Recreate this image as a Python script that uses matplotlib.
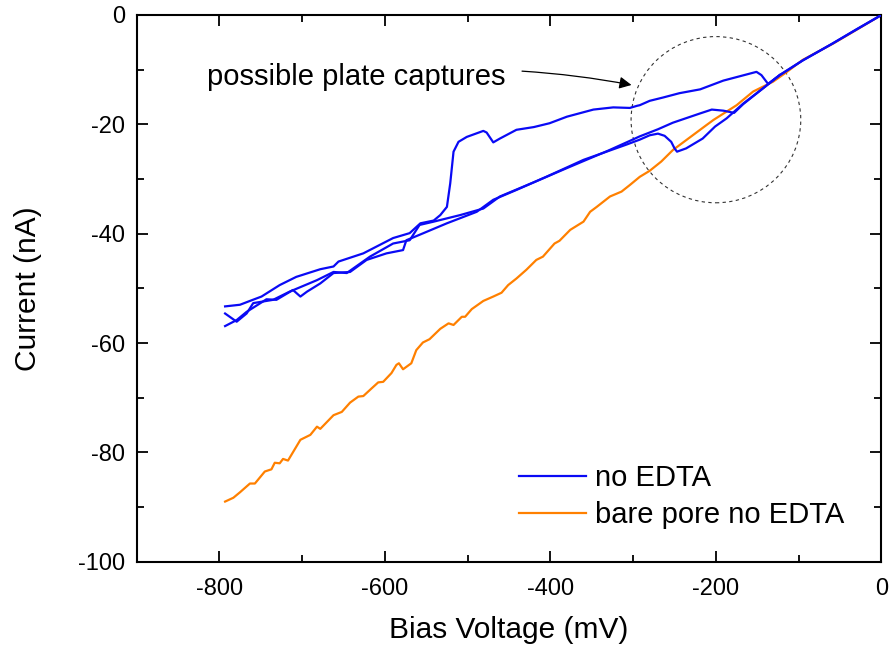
import numpy as np
import matplotlib
matplotlib.use('Agg')
import matplotlib.pyplot as plt
from matplotlib.patches import Ellipse
from matplotlib.ticker import MultipleLocator

plt.rcParams['font.family'] = ['Liberation Sans', 'DejaVu Sans']
plt.rcParams['axes.unicode_minus'] = False

# blue, sweep with the capture (upper branch)
v_capture = [-793, -775, -763, -749, -727, -707, -678, -662, -656, -626, -590, -570, -557, -541, -533, -525,
             -521, -517, -511, -501, -481, -477, -469, -461, -441, -420, -401, -380, -348, -324, -304, -295,
             -292, -280, -264, -244, -219, -191, -171, -151, -145, -137, -123, -95, -60, -30, 0]
i_capture = [-53.3, -53.0, -52.3, -51.5, -49.4, -47.9, -46.5, -46.0, -45.1, -43.6, -40.8, -39.9, -38.1, -37.6, -36.6, -35.1,
             -30.8, -25.0, -23.2, -22.3, -21.2, -21.5, -23.3, -22.6, -21.0, -20.5, -19.8, -18.6, -17.3, -16.9, -17.0, -16.6,
             -16.5, -15.7, -15.1, -14.3, -13.6, -12.0, -11.2, -10.4, -11.0, -12.6, -11.0, -8.3, -5.3, -2.6, 0.0]

# blue, sweep with the hook near -250 mV
v_hook = [-793, -779, -767, -743, -731, -711, -702, -694, -678, -662, -642, -622, -598, -578, -574, -558,
          -525, -489, -469, -441, -405, -360, -308, -292, -280, -270, -262, -254, -250, -247, -236, -216,
          -201, -187, -167, -143, -123, -95, -60, 0]
i_hook = [-56.9, -55.8, -54.3, -52.0, -52.1, -50.3, -51.5, -50.6, -49.1, -47.2, -47.0, -44.8, -43.6, -43.0, -41.2, -40.2,
          -38.1, -36.0, -33.8, -32.0, -29.6, -26.5, -23.7, -22.8, -22.0, -21.7, -22.1, -23.2, -24.4, -25.0, -24.4, -22.6,
          -20.4, -18.9, -16.2, -13.4, -11.0, -8.3, -5.3, 0.0]

# blue, third sweep
v_mid = [-793, -779, -767, -759, -735, -715, -682, -662, -646, -618, -590, -570, -558, -541, -509, -481,
         -461, -420, -380, -330, -308, -292, -270, -252, -219, -205, -191, -178, -167, -143, -123]
i_mid = [-54.6, -56.1, -54.6, -52.7, -52.1, -50.6, -48.5, -47.0, -47.2, -44.2, -41.8, -41.2, -38.4, -37.8, -36.6, -35.4,
         -33.2, -30.6, -28.0, -24.8, -23.3, -22.2, -20.9, -19.7, -18.0, -17.3, -17.5, -17.9, -16.3, -13.4, -11.0]

# orange, bare pore
v_bare = [-793, -783, -775, -763, -757, -745, -737, -733, -727, -723, -717, -702, -690, -682, -678, -662,
          -652, -642, -632, -626, -616, -608, -602, -592, -586, -583, -578, -568, -562, -554, -546, -533,
          -523, -517, -507, -503, -495, -481, -469, -459, -451, -441, -429, -417, -409, -395, -389, -376,
          -360, -352, -344, -328, -314, -304, -292, -280, -266, -252, -244, -212, -203, -175, -155, -131,
          -115, -95, -58, -30, 0]
i_bare = [-89.0, -88.3, -87.3, -85.7, -85.7, -83.5, -83.1, -81.9, -82.0, -81.2, -81.5, -77.7, -76.8, -75.3, -75.7, -73.2,
          -72.6, -70.9, -69.8, -69.7, -68.3, -67.2, -67.1, -65.5, -64.0, -63.7, -64.8, -63.7, -61.3, -59.9, -59.3, -57.4,
          -56.4, -56.7, -55.2, -55.2, -53.8, -52.3, -51.5, -50.8, -49.4, -48.2, -46.6, -44.8, -44.2, -41.8, -41.3, -39.3,
          -37.8, -36.0, -35.1, -33.2, -32.3, -31.1, -29.6, -28.5, -26.8, -24.7, -23.8, -20.2, -19.2, -16.5, -14.0, -12.2,
          -10.5, -8.2, -5.2, -2.7, 0.0]

blue = '#0a0af5'
orange = '#ff8000'

fig = plt.figure(figsize=(8.9, 6.49), dpi=100)
ax = fig.add_axes([0.1534, 0.1345, 0.8370, 0.8424])

ax.plot(v_bare, i_bare, color=orange, lw=1.6, label='bare pore no EDTA', zorder=2)
ax.plot(v_mid, i_mid, color=blue, lw=1.6, zorder=3)
ax.plot(v_hook, i_hook, color=blue, lw=1.6, zorder=3)
ax.plot(v_capture, i_capture, color=blue, lw=1.6, label='no EDTA', zorder=3)

circ = Ellipse((-200, -19.15), 205, 30.4, fill=False, ls=(0, (3, 3)), lw=0.8, color='#333333')
ax.add_patch(circ)
ax.annotate('possible plate captures', xy=(-302, -12.8), xytext=(-815, -11.3),
            fontsize=21, va='center', ha='left',
            arrowprops=dict(arrowstyle='-|>', color='black', lw=0.9, mutation_scale=18,
                            connectionstyle='arc3,rad=-0.08', shrinkA=10, shrinkB=0))

ax.set_xlim(-900, 0)
ax.set_ylim(-100, 0)
ax.xaxis.set_major_locator(MultipleLocator(200))
ax.xaxis.set_minor_locator(MultipleLocator(100))
ax.yaxis.set_major_locator(MultipleLocator(20))
ax.yaxis.set_minor_locator(MultipleLocator(10))
ax.tick_params(which='both', direction='in', top=True, right=True, width=1.3, labelsize=17, pad=8)
ax.tick_params(axis='x', which='both', pad=12)
ax.tick_params(which='major', length=8)
ax.tick_params(which='minor', length=5)
for s in ax.spines.values():
    s.set_linewidth(1.5)

ax.set_xlabel('Bias Voltage (mV)', fontsize=21.5, labelpad=11)
ax.set_ylabel('Current (nA)', fontsize=21.5, labelpad=26)

handles, labels = ax.get_legend_handles_labels()
ax.legend(handles[::-1], labels[::-1], loc='lower right', frameon=False, fontsize=21,
          handlelength=2.3, handletextpad=0.3, labelspacing=0.3, bbox_to_anchor=(0.985, 0.012))

fig.savefig('out.png', dpi=100)
